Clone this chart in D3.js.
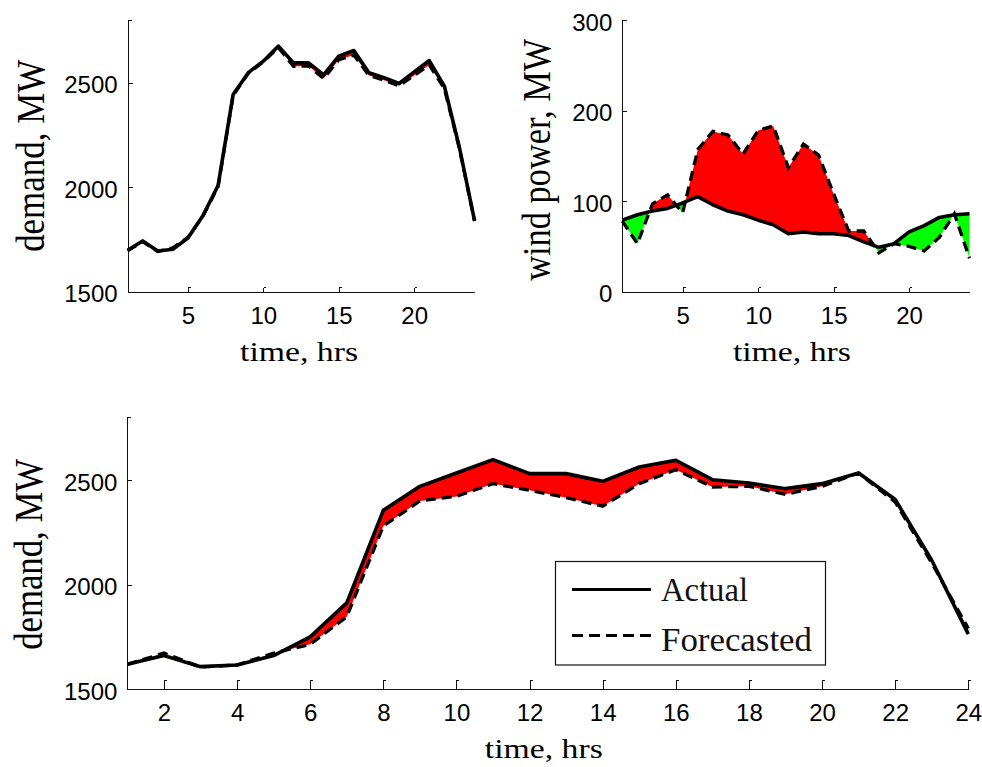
<!DOCTYPE html>
<html>
<head>
<meta charset="utf-8">
<script src="https://cdn.jsdelivr.net/npm/d3@7"></script>
<style>
  body { margin: 0; background: #fff; }
  svg { display: block; }
  .tick text { font-family: "Liberation Sans", Arial, sans-serif; font-size: 24px; fill: #000; }
  .axis path, .axis line { stroke: #111; stroke-width: 1px; shape-rendering: crispEdges; }
  .axis-label { font-family: "Liberation Serif", "Times New Roman", serif; fill: #000; }
  .legend text { font-family: "Liberation Serif", "Times New Roman", serif; font-size: 33px; fill: #111; }
</style>
</head>
<body>
<div id="chart"></div>
<script>
/* CONSTANTS AND GLOBALS */
const width = 982,
  height = 767;

/* DATA */
const hours = [1, 2, 3, 4, 5, 6, 7, 8, 9, 10, 11, 12, 13, 14, 15, 16, 17, 18, 19, 20, 21, 22, 23, 24];
const xTicksTop = [5, 10, 15, 20];
const xTicksBottom = [2, 4, 6, 8, 10, 12, 14, 16, 18, 20, 22, 24];
const demandTicks = [1500, 2000, 2500];
const windTicks = [0, 100, 200, 300];
const legendLabels = ["Actual", "Forecasted"];

// top left: demand (first day)
const demandActualTop = [1698, 1743, 1695, 1703, 1757, 1865, 2008, 2444, 2548, 2603, 2675, 2595,
  2595, 2537, 2627, 2654, 2548, 2524, 2497, 2552, 2606, 2484, 2190, 1841];
const demandForecastTop = [1695, 1740, 1692, 1710, 1760, 1862, 2003, 2440, 2545, 2600, 2668, 2578,
  2580, 2520, 2610, 2632, 2535, 2512, 2485, 2535, 2585, 2472, 2185, 1838];

// top right: wind power
const windActual = [79, 85, 89, 92, 98, 105, 96, 89, 85, 79, 74, 64,
  66, 64, 64, 62, 55, 49, 53, 66, 73, 82, 85, 86];
const windForecast = [78, 53, 97, 107, 87, 157, 177, 173, 152, 178, 183, 137,
  163, 151, 108, 67, 67, 43, 53, 50, 45, 60, 86, 37];

// bottom: demand
const demandActual = [1618, 1660, 1607, 1615, 1660, 1750, 1913, 2356, 2471, 2535, 2599, 2532,
  2532, 2495, 2564, 2596, 2503, 2487, 2460, 2484, 2535, 2408, 2117, 1763];
const demandForecast = [1618, 1672, 1605, 1615, 1672, 1714, 1846, 2281, 2401, 2423, 2484, 2452,
  2417, 2376, 2484, 2551, 2468, 2471, 2433, 2471, 2535, 2396, 2104, 1790];

/* PANELS */
const panels = [
  {
    left: 127.6, right: 474.5, top: 20, bottom: 291.7,
    yDomain: [1500, 2800], yTicks: demandTicks, xTicks: xTicksTop, xTickLen: 4,
    yLabel: "demand, MW", yLabelLen: 192, yLabelX: 44, yLabelShift: 0, xLabelShift: -2,
    actual: demandActualTop, forecast: demandForecastTop, redWhenActualAbove: true
  },
  {
    left: 622.3, right: 969.5, top: 20, bottom: 291.7,
    yDomain: [0, 300], yTicks: windTicks, xTicks: xTicksTop, xTickLen: 4,
    yLabel: "wind power, MW", yLabelLen: 242, yLabelX: 550, yLabelShift: 4, xLabelShift: -4,
    actual: windActual, forecast: windForecast, redWhenActualAbove: false
  },
  {
    left: 127.4, right: 968.3, top: 417.7, bottom: 689,
    yDomain: [1500, 2800], yTicks: demandTicks, xTicks: xTicksBottom, xTickLen: 9,
    yLabel: "demand, MW", yLabelLen: 191, yLabelX: 42, yLabelShift: 1, xLabelShift: -4,
    actual: demandActual, forecast: demandForecast, redWhenActualAbove: true,
    legend: true
  }
];

let svg;

/* INIT */
function init() {
  svg = d3
    .select("#chart")
    .append("svg")
    .attr("width", width)
    .attr("height", height);

  panels.forEach(drawPanel);
}

// split the gap between the two lines into runs of one sign, cutting at crossings
function gapRuns(actual, forecast) {
  const runs = [];
  let cur = null;
  const push = (pts, up) => {
    if (cur && cur.up === up) {
      cur.pts.push(pts[1]);
    } else {
      cur = { up, pts: pts.slice() };
      runs.push(cur);
    }
  };
  for (let i = 0; i < hours.length - 1; i++) {
    const p0 = { h: hours[i], a: actual[i], f: forecast[i] };
    const p1 = { h: hours[i + 1], a: actual[i + 1], f: forecast[i + 1] };
    const d0 = p0.a - p0.f,
      d1 = p1.a - p1.f;
    if (d0 * d1 < 0) {
      const t = d0 / (d0 - d1);
      const a = p0.a + t * (p1.a - p0.a);
      const pc = { h: p0.h + t * (p1.h - p0.h), a: a, f: a };
      push([p0, pc], d0 > 0);
      push([pc, p1], d1 > 0);
    } else {
      push([p0, p1], d0 + d1 > 0);
    }
  }
  return runs;
}

function drawPanel(p) {
  const xScale = d3.scaleLinear().domain([1, 24]).range([p.left, p.right]);
  const yScale = d3.scaleLinear().domain(p.yDomain).range([p.bottom, p.top]);

  const g = svg.append("g");

  // + FILL BETWEEN ACTUAL AND FORECAST
  const area = d3
    .area()
    .x(d => xScale(d.h))
    .y0(d => yScale(d.a))
    .y1(d => yScale(d.f));

  g.selectAll("path.gap")
    .data(gapRuns(p.actual, p.forecast))
    .join("path")
    .attr("class", "gap")
    .attr("fill", d => (d.up === p.redWhenActualAbove ? "#ff0000" : "#00ff00"))
    .attr("stroke", "none")
    .attr("d", d => area(d.pts));

  // + LINES
  const lineFunc = d3
    .line()
    .x((d, i) => xScale(hours[i]))
    .y(d => yScale(d));

  g.append("path")
    .attr("fill", "none")
    .attr("stroke", "#000")
    .attr("stroke-width", 3.6)
    .attr("stroke-linejoin", "round")
    .attr("d", lineFunc(p.actual));

  g.append("path")
    .attr("fill", "none")
    .attr("stroke", "#000")
    .attr("stroke-width", 3.3)
    .attr("stroke-dasharray", "10,6")
    .attr("d", lineFunc(p.forecast));

  // + AXES
  const xAxis = d3
    .axisBottom(xScale)
    .tickValues(p.xTicks)
    .tickFormat(d3.format("d"))
    .tickSizeInner(-p.xTickLen)
    .tickSizeOuter(0)
    .tickPadding(15);

  const gx = g
    .append("g")
    .attr("class", "axis x-axis")
    .attr("transform", `translate(0,${p.bottom})`)
    .call(xAxis);
  // the little hooks on top of the ticks
  gx.selectAll(".tick")
    .append("line")
    .attr("x1", 0)
    .attr("x2", 2.5)
    .attr("y1", -p.xTickLen)
    .attr("y2", -p.xTickLen);

  const yAxis = d3
    .axisLeft(yScale)
    .tickValues(p.yTicks)
    .tickFormat(d3.format("d"))
    .tickSizeInner(-5)
    .tickSizeOuter(0)
    .tickPadding(10);

  const gy = g
    .append("g")
    .attr("class", "axis y-axis")
    .attr("transform", `translate(${p.left},0)`)
    .call(yAxis);
  gy.selectAll(".tick text").attr("dy", 10);
  // stub at the top of the y axis
  gy.append("line")
    .attr("x1", 0)
    .attr("x2", 4)
    .attr("y1", p.top)
    .attr("y2", p.top);

  // + AXIS LABELS
  g.append("text")
    .attr("class", "axis-label")
    .attr("x", (p.left + p.right) / 2 + p.xLabelShift)
    .attr("y", p.bottom + 69)
    .attr("text-anchor", "middle")
    .attr("font-size", 27)
    .attr("textLength", 118)
    .attr("lengthAdjust", "spacingAndGlyphs")
    .text("time, hrs");

  g.append("text")
    .attr("class", "axis-label")
    .attr("transform", `translate(${p.yLabelX},${(p.top + p.bottom) / 2 + p.yLabelShift}) rotate(-90)`)
    .attr("text-anchor", "middle")
    .attr("font-size", 39)
    .attr("textLength", p.yLabelLen)
    .attr("lengthAdjust", "spacingAndGlyphs")
    .text(p.yLabel);

  if (p.legend) drawLegend(g);
}

function drawLegend(g) {
  const lg = g.append("g").attr("class", "legend");
  lg.append("rect")
    .attr("x", 555.5)
    .attr("y", 561.5)
    .attr("width", 270)
    .attr("height", 103.5)
    .attr("fill", "#fff")
    .attr("stroke", "#111")
    .attr("stroke-width", 1.2);

  const rows = lg
    .selectAll("g.row")
    .data(legendLabels)
    .join("g")
    .attr("class", "row")
    .attr("transform", (d, i) => `translate(0,${589.5 + i * 46})`);

  rows.append("line")
    .attr("x1", 572)
    .attr("x2", 651)
    .attr("stroke", "#000")
    .attr("stroke-width", 3.2)
    .attr("stroke-dasharray", (d, i) => (i === 0 ? null : "11,6"));

  rows.append("text")
    .attr("x", 661)
    .attr("y", (d, i) => (i === 0 ? 11.5 : 15.5))
    .attr("textLength", (d, i) => (i === 0 ? 87 : 151))
    .attr("lengthAdjust", "spacingAndGlyphs")
    .text(d => d);
}

init();
</script>
</body>
</html>
